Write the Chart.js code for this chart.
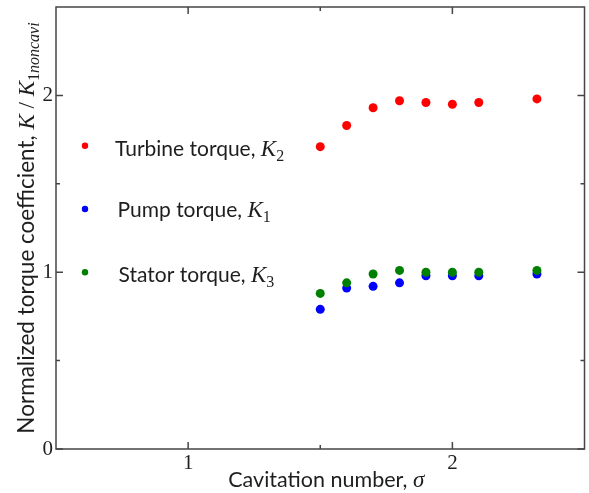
<!DOCTYPE html>
<html>
<head>
<meta charset="utf-8">
<script src="https://cdn.jsdelivr.net/npm/chart.js@4.4.1/dist/chart.umd.min.js"></script>
<style>
  html, body { margin: 0; padding: 0; background: #fff; }
  #wrap { width: 589px; height: 493px; }
</style>
</head>
<body>
<div id="wrap"><canvas id="torqueChart" width="589" height="493"></canvas></div>
<script>
// Cavitation number of each run
const sigma = [1.5, 1.6, 1.7, 1.8, 1.9, 2.0, 2.1, 2.32];

// Torque coefficients, normalised by the non-cavitating pump torque
const turbineTorque = [1.71, 1.83, 1.93, 1.97, 1.96, 1.95, 1.96, 1.98];
const pumpTorque    = [0.79, 0.91, 0.92, 0.94, 0.98, 0.98, 0.98, 0.99];
const statorTorque  = [0.88, 0.94, 0.99, 1.01, 1.00, 1.00, 1.00, 1.01];

// Legend text is split in plain text + symbol + subscript
const seriesNames   = ['Turbine torque, ', 'Pump torque, ', 'Stator torque, '];
const seriesSymbols = ['K', 'K', 'K'];
const seriesSubs    = ['2', '1', '3'];
const seriesColors  = ['#ff0000', '#0000ff', '#008000'];

const xTicks = [1, 2];
const yTicks = [0, 1, 2];
const xMinorTicks = [1.5];
const yMinorTicks = [0.5, 1.5];

const SANS = 'Lato, "Open Sans", sans-serif';
const SERIF = '"Liberation Serif", "Times New Roman", serif';
const TEXT = '#1e1e1e';
const FRAME = '#454545';

function toPoints(ys) {
    return sigma.map((s, i) => ({ x: s, y: ys[i] }));
}

// draw a list of text runs one after another, each with its own font
function runsWidth(ctx, runs) {
    let w = 0;
    runs.forEach(r => { ctx.font = r.font; w += ctx.measureText(r.text).width; });
    return w;
}
function drawRuns(ctx, runs, x, y) {
    runs.forEach(r => {
        ctx.font = r.font;
        ctx.fillText(r.text, x, y + (r.dy || 0));
        x += ctx.measureText(r.text).width;
    });
}

// box around the plot with inward ticks on all four sides
const framePlugin = {
    id: 'frame',
    afterDraw(chart) {
        const { ctx, chartArea: a, scales: { x, y } } = chart;
        ctx.save();
        ctx.strokeStyle = FRAME;
        ctx.lineWidth = 1.5;
        ctx.strokeRect(a.left, a.top, a.right - a.left, a.bottom - a.top);
        ctx.beginPath();
        const tickX = (vals, len) => vals.forEach(v => {
            const px = x.getPixelForValue(v);
            ctx.moveTo(px, a.bottom); ctx.lineTo(px, a.bottom - len);
            ctx.moveTo(px, a.top); ctx.lineTo(px, a.top + len);
        });
        const tickY = (vals, len) => vals.forEach(v => {
            const py = y.getPixelForValue(v);
            ctx.moveTo(a.left, py); ctx.lineTo(a.left + len, py);
            ctx.moveTo(a.right, py); ctx.lineTo(a.right - len, py);
        });
        tickX(xTicks, 7);
        tickX(xMinorTicks, 4);
        tickY(yTicks, 7);
        tickY(yMinorTicks, 4);
        ctx.stroke();
        ctx.restore();
    }
};

// axis titles with italic math symbols
const titlePlugin = {
    id: 'titles',
    afterDraw(chart) {
        const { ctx, chartArea: a } = chart;
        ctx.save();
        ctx.fillStyle = TEXT;
        ctx.textBaseline = 'alphabetic';

        const xRuns = [
            { text: 'Cavitation number, ', font: '21.5px ' + SANS },
            { text: 'σ', font: 'italic 23px ' + SERIF }
        ];
        const xw = runsWidth(ctx, xRuns);
        drawRuns(ctx, xRuns, (a.left + a.right) / 2 + 6 - xw / 2, 487);

        const yRuns = [
            { text: 'Normalized torque coefficient, ', font: '22.5px ' + SANS },
            { text: 'K', font: 'italic 23px ' + SERIF },
            { text: ' / ', font: '23px ' + SERIF },
            { text: 'K', font: 'italic 23px ' + SERIF },
            { text: '1', font: '16px ' + SERIF, dy: 5 },
            { text: 'noncavi', font: 'italic 16px ' + SERIF, dy: 5 }
        ];
        const yw = runsWidth(ctx, yRuns);
        ctx.translate(33.5, (a.top + a.bottom) / 2);
        ctx.rotate(-Math.PI / 2);
        drawRuns(ctx, yRuns, -yw / 2, 0);
        ctx.restore();
    }
};

// legend placed inside the plot, left side
const legendPlugin = {
    id: 'insideLegend',
    afterDraw(chart) {
        const { ctx, chartArea: a } = chart;
        const dotY = [145.7, 209, 272.3];
        const baseY = [156, 217, 281.5];
        const textX = [115, 117.5, 118.5];
        ctx.save();
        chart.data.datasets.forEach((ds, i) => {
            ctx.fillStyle = ds.backgroundColor;
            ctx.beginPath();
            ctx.arc(a.left + 29, dotY[i], 3.2, 0, Math.PI * 2);
            ctx.fill();
            ctx.fillStyle = TEXT;
            drawRuns(ctx, [
                { text: seriesNames[i], font: '21px ' + SANS },
                { text: seriesSymbols[i], font: 'italic 23px ' + SERIF },
                { text: seriesSubs[i], font: '16px ' + SERIF, dy: 5 }
            ], textX[i], baseY[i]);
        });
        ctx.restore();
    }
};

const series = [turbineTorque, pumpTorque, statorTorque];

new Chart(document.getElementById('torqueChart'), {
    type: 'scatter',
    data: {
        datasets: series.map((ys, i) => ({
            label: seriesNames[i] + seriesSymbols[i] + seriesSubs[i],
            data: toPoints(ys),
            backgroundColor: seriesColors[i],
            borderColor: seriesColors[i],
            borderWidth: 0,
            pointRadius: 4.5,
            order: i === 0 ? 0 : 3 - i
        }))
    },
    options: {
        responsive: false,
        animation: false,
        events: [],
        layout: { padding: { top: 7, right: 4, left: 0, bottom: 0 } },
        plugins: {
            legend: { display: false },
            tooltip: { enabled: false }
        },
        scales: {
            x: {
                type: 'linear',
                min: 0.5,
                max: 2.5,
                afterBuildTicks: s => { s.ticks = xTicks.map(v => ({ value: v })); },
                afterFit: s => {
                    s.height = 44;
                    s.paddingLeft = 0;
                    s.paddingRight = 0;
                },
                grid: { display: false, drawTicks: false },
                border: { display: false },
                ticks: {
                    padding: 2,
                    color: TEXT,
                    font: { family: SERIF, size: 21 },
                    callback: v => String(v)
                }
            },
            y: {
                type: 'linear',
                min: 0,
                max: 2.5,
                afterBuildTicks: s => { s.ticks = yTicks.map(v => ({ value: v })); },
                afterFit: s => {
                    s.width = 56;
                    s.paddingTop = 0;
                    s.paddingBottom = 0;
                },
                grid: { display: false, drawTicks: false },
                border: { display: false },
                ticks: {
                    padding: 3,
                    color: TEXT,
                    font: { family: SERIF, size: 21 },
                    callback: v => String(v)
                }
            }
        }
    },
    plugins: [framePlugin, titlePlugin, legendPlugin]
});
</script>
</body>
</html>
